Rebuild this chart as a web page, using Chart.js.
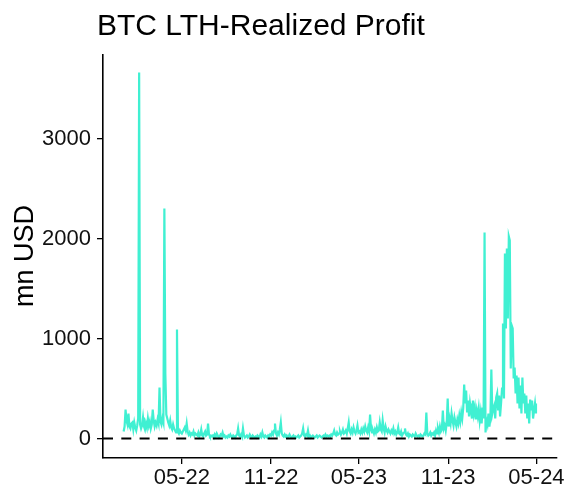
<!DOCTYPE html>
<html>
<head>
<meta charset="utf-8">
<script src="https://cdn.jsdelivr.net/npm/chart.js@4.4.1/dist/chart.umd.min.js"></script>
<style>
  html, body { margin:0; padding:0; background:#fff; }
  canvas { display:block; }
</style>
</head>
<body>
<canvas id="c" width="566" height="490"></canvas>
<script>
// daily LTH realized profit (mn USD), one value every 2 days from 2022-01-01
const stepDays = 2;
const profit2022 = [
  70,120,290,180,140,250,120,100,150,160,90,160,110,80,130,200,
  3660,140,100,130,210,120,90,150,110,200,130,170,100,140,
  290,180,120,160,130,190,150,510,170,140,200,160,2300,650,240,
  200,160,130,180,110,90,140,100,80,60,1090,70,50,80,60,
  50,70,90,110,80,150,70,40,60,30,50,40,70,30,50,40,
  30,60,20,40,90,30,20,50,70,30,40,150,40,20,30,
  20,30,10,40,20,50,30,10,20,40,30,60,20,30,10,
  20,10,30,20,40,20,10,30,20,10,30,40,100,30,20,40,
  20,100,30,10,20,30,10,20,40,20,10,30,20,10,20,
  10,30,20,10,40,20,60,20,10,30,20,10,30,20,40,
  30,60,40,80,150,50,30,60,40,90,160,50,30,20,40,
  20,30,10,20,40,20,10,20,30,10,20,10,20,30,10,20
];
const profit2023 = [
  30,50,100,30,20,40,30,80,20,30,10,20,30,20,10,
  20,30,10,20,30,20,10,20,30,20,40,20,30,20,
  30,20,40,30,50,80,40,30,60,40,50,70,40,60,90,50,
  60,80,50,100,160,70,50,90,60,110,70,50,80,130,60,
  70,50,90,60,100,70,120,80,60,110,70,240,90,60,80,
  50,90,60,110,70,80,160,90,70,180,100,60,120,80,60,
  90,70,50,80,60,100,50,70,40,60,110,50,40,70,30,50,
  60,100,40,30,50,20,40,30,20,40,30,20,50,30,20,
  30,20,40,30,20,30,50,40,260,50,30,40,60,30,50,
  40,60,30,80,50,100,60,120,70,90,280,100,130,80,150,400,
  120,200,150,250,180,130,210,160,120,190,150,230,170,260,200,
  300,540,350,480,260,380,220,350,280,200,380,250,310,190,280
];
const profit2024 = [
  220,300,180,260,150,310,200,2060,60,180,140,250,120,200,690,250,
  300,330,200,410,450,280,430,220,350,500,1150,400,1850,1100,
  1900,1200,2020,1980,700,1130,1100,600,710,450,630,350,610,300,530,250,
  610,350,450,250,430,200,350,150,390,280,380,200,280,350,250
];
// x ticks: days since 2022-01-01
const tickDays = [120, 304, 485, 669, 851];
const tickLabels = ['05-22', '11-22', '05-23', '11-23', '05-24'];
const yTicks = [0, 1000, 2000, 3000];

const profit = profit2022.concat(profit2023, profit2024);
const series = profit.map((v, i) => ({ x: i * stepDays, y: v }));
const lastDay = (profit.length - 1) * stepDays;
const pad = lastDay * 0.05;

Chart.defaults.font.family = "'Liberation Sans', Arial, sans-serif";
Chart.defaults.color = '#111';

const textPlugin = {
  id: 'texts',
  afterDraw(chart) {
    const ctx = chart.ctx;
    ctx.save();
    ctx.fillStyle = '#000';
    ctx.font = "30px 'Liberation Sans', Arial, sans-serif";
    ctx.textAlign = 'left';
    ctx.textBaseline = 'alphabetic';
    ctx.fillText('BTC LTH-Realized Profit', 97, 35);
    ctx.translate(33, 256);
    ctx.rotate(-Math.PI / 2);
    ctx.font = "27px 'Liberation Sans', Arial, sans-serif";
    ctx.textAlign = 'center';
    ctx.fillText('mn USD', 0, 0);
    ctx.restore();
  }
};

new Chart(document.getElementById('c'), {
  type: 'line',
  data: {
    datasets: [
      { data: [{ x: -pad, y: 0 }, { x: lastDay + pad, y: 0 }], borderColor: '#000',
        borderWidth: 2.2, borderDash: [10, 8.3], pointRadius: 0, order: 0 },
      { data: series, borderColor: '#40F0D2', borderWidth: 2.2, pointRadius: 0,
        tension: 0, order: 1 }
    ]
  },
  options: {
    responsive: false,
    devicePixelRatio: 1,
    animation: false,
    layout: { padding: { top: 55, right: 9, left: 0, bottom: 0 } },
    plugins: { legend: { display: false }, tooltip: { enabled: false } },
    scales: {
      x: {
        type: 'linear', min: -pad, max: lastDay + pad,
        afterBuildTicks: s => { s.ticks = tickDays.map(v => ({ value: v })); },
        afterFit: s => { s.height = 32; },
        ticks: { callback: (v) => tickLabels[tickDays.indexOf(v)], font: { size: 22 },
                 color: '#111', padding: 1, maxRotation: 0, autoSkip: false },
        grid: { drawOnChartArea: false, drawTicks: true, tickLength: 6, color: '#000', lineWidth: 1.3 },
        border: { display: true, color: '#000', width: 1.6 }
      },
      y: {
        min: -195, max: 3835,
        afterBuildTicks: s => { s.ticks = yTicks.map(v => ({ value: v })); },
        afterFit: s => { s.width = 103; },
        ticks: { callback: (v) => String(v), font: { size: 22 }, color: '#111', padding: 6 },
        grid: { drawOnChartArea: false, drawTicks: true, tickLength: 6, color: '#000', lineWidth: 1.3 },
        border: { display: true, color: '#000', width: 1.6 }
      }
    }
  },
  plugins: [textPlugin]
});
</script>
</body>
</html>
